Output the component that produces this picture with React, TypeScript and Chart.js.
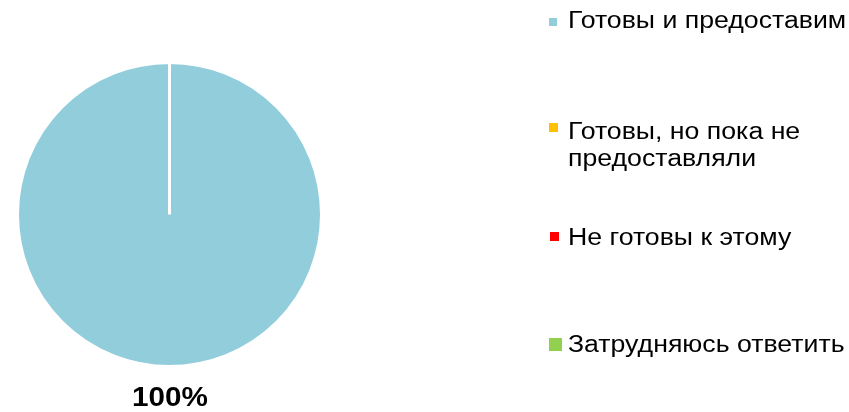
import React, { useEffect, useRef } from "react";
import { Chart, registerables } from "chart.js";

Chart.register(...registerables);

const categories: string[][] = [
  ["Готовы и предоставим"],
  ["Готовы, но пока не", "предоставляли"],
  ["Не готовы к этому"],
  ["Затрудняюсь ответить"],
];
const values: number[] = [100, 0, 0, 0];
const colors: string[] = ["#92CDDC", "#FFC000", "#FF0000", "#92D050"];

function stretchedText(ctx: CanvasRenderingContext2D, text: string, x: number, y: number, sx: number) {
  ctx.save();
  ctx.translate(x, y);
  ctx.scale(sx, 1);
  ctx.fillText(text, 0, 0);
  ctx.restore();
}

const legendPlugin = {
  id: "customLegend",
  afterDraw(chart: any) {
    const ctx = chart.ctx as CanvasRenderingContext2D;
    const labels = chart.data.labels as string[][];
    const bg = chart.data.datasets[0].backgroundColor as string[];
    const baselines = [[28], [139, 166], [245], [352]];
    const squares = [
      [549, 18, 8, 8],
      [549, 123, 9, 9],
      [550, 232, 9, 9],
      [549, 338, 13, 13],
    ];
    ctx.save();
    ctx.font = "23px 'Liberation Sans', Arial, sans-serif";
    ctx.textBaseline = "alphabetic";
    ctx.textAlign = "left";
    labels.forEach((lines, i) => {
      const [sx, sy, sw, sh] = squares[i];
      ctx.fillStyle = bg[i];
      ctx.fillRect(sx, sy, sw, sh);
      ctx.fillStyle = "#000";
      lines.forEach((line, j) => {
        stretchedText(ctx, line, 568, baselines[i][j], 1.16);
      });
    });
    // data label for the visible slice
    const meta = chart.getDatasetMeta(0);
    const data = chart.data.datasets[0].data as number[];
    const total = data.reduce((a, b) => a + b, 0);
    const arc = meta.data[0] as any;
    if (arc) {
      const pct = Math.round((data[0] / total) * 100) + "%";
      ctx.font = "bold 27px 'Liberation Sans', Arial, sans-serif";
      ctx.textAlign = "left";
      const w = ctx.measureText(pct).width * 1.1;
      stretchedText(ctx, pct, arc.x + 0.5 - w / 2, 406, 1.1);
    }
    ctx.restore();
  },
};

export default function App() {
  const ref = useRef<HTMLCanvasElement | null>(null);
  useEffect(() => {
    if (!ref.current) return;
    const chart = new Chart(ref.current, {
      type: "pie",
      data: {
        labels: categories as any,
        datasets: [
          {
            data: values,
            backgroundColor: colors,
            borderColor: "#FFFFFF",
            borderWidth: 3,
          },
        ],
      },
      options: {
        animation: false,
        responsive: true,
        maintainAspectRatio: false,
        rotation: 0,
        layout: { padding: { left: 16, right: 526, top: 61, bottom: 44 } },
        plugins: {
          legend: { display: false },
          tooltip: { enabled: false },
        },
      },
      plugins: [legendPlugin],
    });
    return () => chart.destroy();
  }, []);
  return (
    <div style={{ position: "absolute", left: 0, top: 0, width: 849, height: 412, background: "#fff" }}>
      <canvas ref={ref} />
    </div>
  );
}
